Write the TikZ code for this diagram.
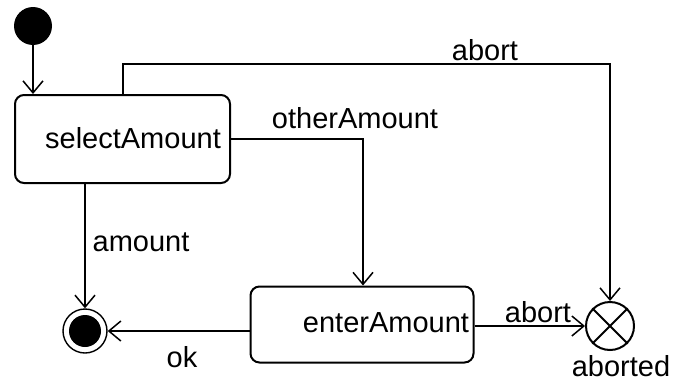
\documentclass[tikz,border=0pt]{standalone}
\usepackage{fontspec}
\setmainfont{Liberation Sans}
\usetikzlibrary{arrows.meta}
\begin{document}
\begin{tikzpicture}[x=1pt,y=-1pt,
  lbl/.style={inner sep=0pt,font=\fontsize{29}{33}\selectfont},
  state/.style={draw,line width=2pt,rounded corners=9pt,inner sep=0pt},
  conn/.style={line width=1.8pt,-{Straight Barb[length=12pt,width=20pt,line width=1.5pt]}},
  plain/.style={line width=2pt}]
\useasboundingbox (0,0) rectangle (674,383);
\node[circle,fill=black,minimum size=38pt,inner sep=0pt] (init) at (33,26) {};
\node[state,minimum width=215pt,minimum height=88pt] (sel) at (122.5,139) {};
\node[lbl] (selt) at (133,138) {selectAmount};
\node[state,minimum width=223pt,minimum height=76pt] (ent) at (362,324.5) {};
\node[lbl] (entt) at (386,323) {enterAmount};
\node[circle,draw,line width=1.4pt,minimum size=44pt,inner sep=0pt] (fin) at (85,331) {};
\node[circle,fill=black,minimum size=32pt,inner sep=0pt] (finin) at (85,331) {};
\node[circle,draw,line width=2pt,minimum size=48pt,inner sep=0pt] (abt) at (610,326) {};
\draw[plain] (abt.north west) -- (abt.south east) (abt.north east) -- (abt.south west);
\node[lbl] (abtt) at (621,366) {aborted};
\coordinate (c1) at (123,64);
\coordinate (c2) at (610,64);
\coordinate (c3) at (363,139);
\draw[conn] (init) -- (sel.north -| init);
\draw[conn] (sel.north -| c1) -- (c1) -- (c2) -- (abt.north);
\draw[conn] (sel.east |- c3) -- (c3) -- (ent.north -| c3);
\draw[conn] (sel.south -| fin) -- (fin.north);
\draw[conn] (ent.west |- fin) -- (fin.east);
\draw[conn] (ent.east |- abt) -- (abt.west);
\node[lbl] (l1) at (485,50) {abort};
\node[lbl] (l2) at (355,118) {otherAmount};
\node[lbl] (l3) at (141,242) {amount};
\node[lbl] (l4) at (182,357) {ok};
\node[lbl] (l5) at (538,312) {abort};
\end{tikzpicture}
\end{document}
